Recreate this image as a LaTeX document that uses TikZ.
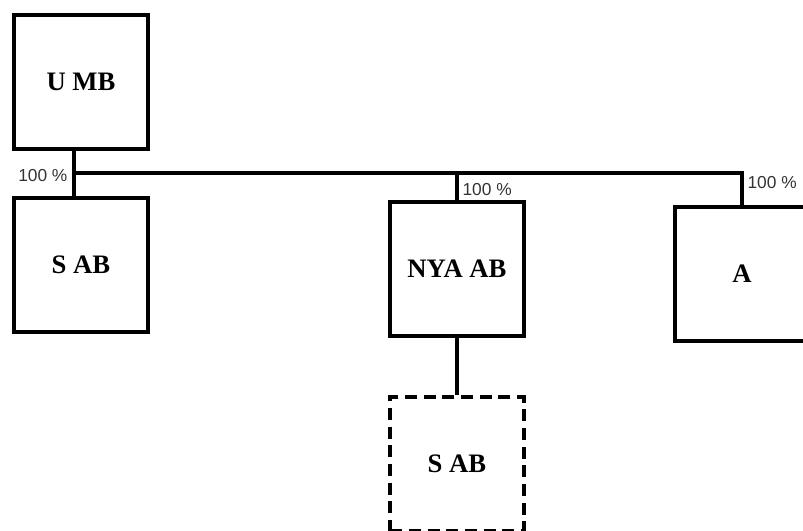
\documentclass[tikz,border=0pt]{standalone}
\usepackage{fontspec}
\setmainfont{Liberation Serif}
\newfontfamily\labelfont{Liberation Sans}
\usepackage{tikz}
\usetikzlibrary{positioning, calc}

\tikzset{
    firm/.style={draw, line width=3pt, minimum width=100pt, minimum height=100pt,
        inner sep=0pt, font=\fontsize{20}{22}\selectfont\bfseries},
    planned/.style={firm, dash pattern=on 9pt off 5pt},
    share/.style={font=\labelfont\fontsize{13}{15}\selectfont, text=black!80, inner sep=1pt},
    tie/.style={line width=3pt}
}

\begin{document}
\begin{tikzpicture}[x=0.75pt, y=-0.75pt]
    \useasboundingbox (0,0) rectangle (803,531);
    \clip (0,0) rectangle (803,531);

    % Owner
    \node[firm] (umb) at (81,82) {U MB};

    % Subsidiaries
    \node[firm] (sab) at (81,265) {S AB};
    \node[firm] (nya) at (457,269) {NYA AB};
    \node[firm] (a) at (742,274) {A};

    % Planned
    \node[planned] (sab2) at (457,464) {S AB};

    % Ownership lines
    \coordinate (bar) at (74,173);
    \draw[tie] (umb.south -| bar) -- (sab.north -| bar);
    \draw[tie] (bar) -| (a.north);
    \draw[tie] (nya.north) -- (nya.north |- bar);
    \draw[tie] (nya.south) -- (sab2.north);

    % Shares
    \node[share, anchor=east] (p1) at (69,176) {100 \%};
    \node[share, anchor=west] (p2) at (461,190) {100 \%};
    \node[share, anchor=west] (p3) at (746,183) {100 \%};
\end{tikzpicture}
\end{document}
